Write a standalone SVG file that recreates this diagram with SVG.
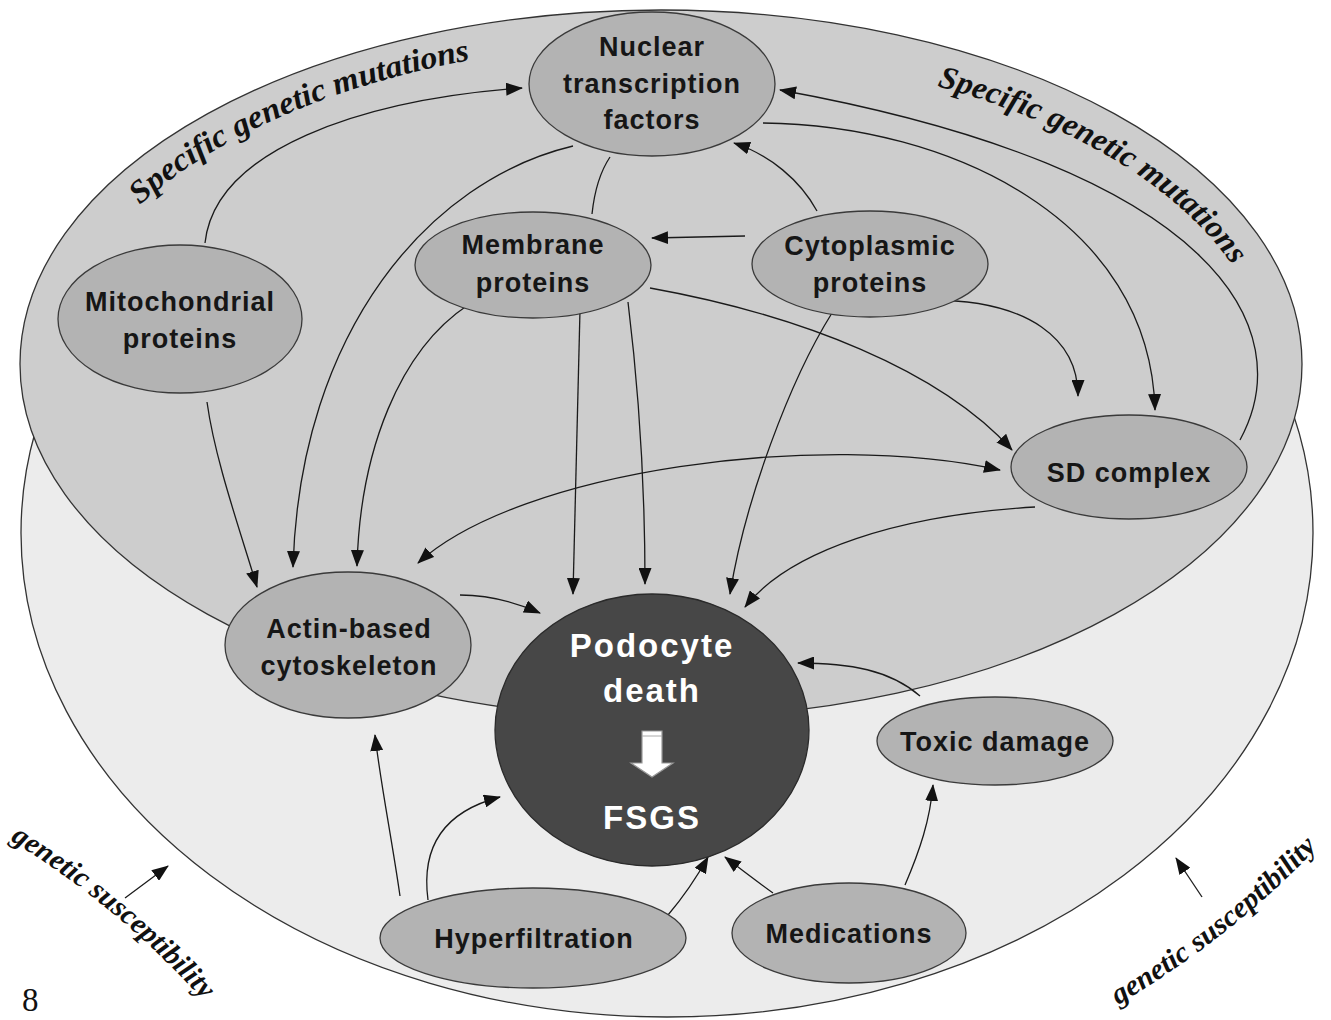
<svg xmlns="http://www.w3.org/2000/svg" width="1331" height="1020" viewBox="0 0 1331 1020">
<style>
.bg{stroke:#333;stroke-width:1.3}
.node ellipse{fill:#b3b3b3;stroke:#3a3a3a;stroke-width:1.3}
.node text{font-family:"Liberation Sans",Arial,sans-serif;font-weight:bold;font-size:27px;letter-spacing:1px;fill:#161616;text-anchor:middle}
.pod text{font-family:"Liberation Sans",Arial,sans-serif;font-weight:bold;font-size:33px;letter-spacing:2px;fill:#fff;text-anchor:middle}
.conn path{fill:none;stroke:#1a1a1a;stroke-width:1.3;marker-end:url(#ah)}
.cal{font-family:"Liberation Serif","Times New Roman",serif;font-style:italic;font-weight:bold;font-size:32px;fill:#111}
</style>
<defs>
<marker id="ah" markerUnits="userSpaceOnUse" markerWidth="17" markerHeight="13" refX="16" refY="6.5" orient="auto-start-reverse" viewBox="0 0 17 13"><path d="M0,0 L17,6.5 L0,13 z" fill="#111"/></marker>
<path id="tpL" d="M140,205 A620,330 0 0,1 470,60"/>
<path id="tpR" d="M937,86 A620,330 0 0,1 1230,262"/>
<path id="tpBL" d="M10,840 Q122,908 212,1010"/>
<path id="tpBR" d="M1118,1005 Q1240,932 1324,840"/>
</defs>
<rect width="1331" height="1020" fill="#fff"/>
<g id="outer-region"><ellipse class="bg" cx="667" cy="533" rx="646" ry="484" fill="#ececec"/></g>
<g id="inner-region"><ellipse class="bg" cx="661" cy="364" rx="641" ry="354" fill="#cdcdcd"/></g>
<g id="labels">
<text class="cal"><textPath href="#tpL" textLength="365" lengthAdjust="spacingAndGlyphs">Specific genetic mutations</textPath></text>
<text class="cal"><textPath href="#tpR" textLength="352" lengthAdjust="spacingAndGlyphs">Specific genetic mutations</textPath></text>
<text class="cal" style="font-size:29px"><textPath href="#tpBL" textLength="252" lengthAdjust="spacingAndGlyphs">genetic susceptibility</textPath></text>
<text class="cal" style="font-size:29px"><textPath href="#tpBR" textLength="255" lengthAdjust="spacingAndGlyphs">genetic susceptibility</textPath></text>
<text x="22" y="1011" style="font-family:'Liberation Serif','Times New Roman',serif;font-size:33px;fill:#111">8</text>
</g>
<g id="connectors" class="conn">
<path d="M205,243 C215,150 360,100 522,88"/>
<path d="M207,402 C215,460 240,530 257,587"/>
<path d="M573,146 C430,180 300,330 293,567"/>
<path d="M610,157 C598,175 594,195 592,214" style="marker-end:none"/>
<path d="M817,211 C800,180 770,155 734,143"/>
<path d="M745,236 L652,238"/>
<path d="M1240,440 C1300,330 1220,170 780,90"/>
<path d="M763,123 C950,125 1150,220 1155,410"/>
<path d="M930,300 C1030,300 1078,340 1078,396"/>
<path d="M650,288 C800,315 940,370 1012,450"/>
<path d="M418,563 C520,470 820,430 1000,470" style="marker-start:url(#ah)"/>
<path d="M468,305 C400,350 360,450 357,566"/>
<path d="M580,310 L573,594"/>
<path d="M628,302 C640,400 645,500 645,584"/>
<path d="M832,313 C790,380 745,500 730,594"/>
<path d="M1035,507 C900,515 790,550 745,607"/>
<path d="M460,595 C490,595 515,602 540,613"/>
<path d="M920,696 C890,670 850,663 798,663"/>
<path d="M905,885 C920,850 930,820 933,785"/>
<path d="M773,893 C755,880 738,867 725,857"/>
<path d="M668,915 C685,895 698,875 708,857"/>
<path d="M428,900 C420,840 450,810 500,797"/>
<path d="M400,896 C392,840 380,780 375,735"/>
<path d="M125,898 L168,866"/>
<path d="M1202,897 L1176,858"/>
</g>
<g id="nuclear" class="node"><ellipse cx="652" cy="84" rx="123" ry="72"/><text x="652" y="56">Nuclear</text><text x="652" y="93">transcription</text><text x="652" y="129">factors</text></g>
<g id="membrane" class="node"><ellipse cx="533" cy="265" rx="118" ry="53"/><text x="533" y="254">Membrane</text><text x="533" y="292">proteins</text></g>
<g id="cytoplasmic" class="node"><ellipse cx="870" cy="264" rx="118" ry="53"/><text x="870" y="255">Cytoplasmic</text><text x="870" y="292">proteins</text></g>
<g id="mitochondrial" class="node"><ellipse cx="180" cy="319" rx="122" ry="74"/><text x="180" y="311">Mitochondrial</text><text x="180" y="348">proteins</text></g>
<g id="sd" class="node"><ellipse cx="1129" cy="467" rx="118" ry="52"/><text x="1129" y="482">SD complex</text></g>
<g id="actin" class="node"><ellipse cx="348" cy="645" rx="123" ry="73"/><text x="349" y="638">Actin-based</text><text x="349" y="675">cytoskeleton</text></g>
<g id="toxic" class="node"><ellipse cx="995" cy="741" rx="118" ry="44"/><text x="995" y="751">Toxic damage</text></g>
<g id="hyper" class="node"><ellipse cx="533" cy="938" rx="153" ry="50"/><text x="534" y="948">Hyperfiltration</text></g>
<g id="medications" class="node"><ellipse cx="849" cy="933" rx="117" ry="50"/><text x="849" y="943">Medications</text></g>
<g id="podocyte" class="pod"><ellipse cx="652" cy="730" rx="157" ry="136" fill="#474747" stroke="#2a2a2a" stroke-width="1.3"/>
<text x="652" y="657">Podocyte</text><text x="652" y="702">death</text>
<path d="M642,731 L662,731 L662,763 L673,763 L652,777 L631,763 L642,763 Z" fill="#fff" stroke="#999" stroke-width="1.2"/>
<line x1="642" y1="736" x2="662" y2="736" stroke="#aaa" stroke-width="1"/>
<text x="652" y="829">FSGS</text></g>
</svg>
